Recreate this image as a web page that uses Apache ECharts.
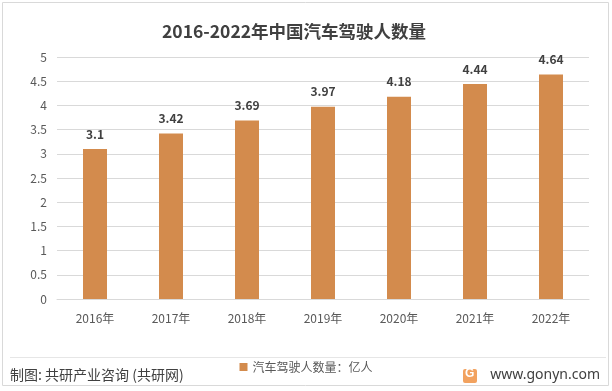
<!DOCTYPE html>
<html><head><meta charset="utf-8">
<script src="https://cdn.jsdelivr.net/npm/echarts@6/dist/echarts.min.js"></script>
<style>html,body{margin:0;padding:0;background:#fff}#c{width:612px;height:391px}</style>
</head><body><div id="c"></div>
<script>
const categories = ['2016年','2017年','2018年','2019年','2020年','2021年','2022年'];
const values = [3.1, 3.42, 3.69, 3.97, 4.18, 4.44, 4.64];
const seriesName = '汽车驾驶人数量：亿人';
const titleText = '2016-2022年中国汽车驾驶人数量';
const sourceText = '制图: 共研产业咨询 (共研网)';
const siteText = 'www.gonyn.com';

const chart = echarts.init(document.getElementById('c'));
const font = '"Microsoft YaHei","Noto Sans CJK SC",sans-serif';
chart.setOption({
  animation: false,
  textStyle: {fontFamily: font},
  title: {text: titleText, left: 157, top: 18,
    textStyle: {fontSize: 17.5, fontWeight: 'bold', color: '#404040', fontFamily: font}},
  grid: {left: 57, right: 23, top: 57, bottom: 92},
  legend: {bottom: 13, left: 'center', itemWidth: 8, itemHeight: 8, itemGap: 4,
    icon: 'rect', textStyle: {fontSize: 12, color: '#595959', fontFamily: font}},
  xAxis: {type: 'category', data: categories,
    axisLine: {lineStyle: {color: '#d9d9d9'}}, axisTick: {show: false},
    axisLabel: {fontSize: 12, color: '#595959', margin: 13}},
  yAxis: {type: 'value', min: 0, max: 5, interval: 0.5,
    axisLine: {show: false}, axisTick: {show: false},
    splitLine: {lineStyle: {color: '#d9d9d9'}},
    axisLabel: {fontSize: 12, color: '#595959', margin: 10}},
  series: [{name: seriesName, type: 'bar', data: values, barWidth: 24,
    itemStyle: {color: '#D38B4D'},
    label: {show: true, position: 'top', distance: 9, fontSize: 12, fontWeight: 'bold', color: '#404040'}}],
  graphic: [
    {type: 'rect', shape: {x: 2.5, y: 2.5, width: 606, height: 383}, style: {fill: 'none', stroke: '#d9d9d9', lineWidth: 1}, silent: true},
    {type: 'line', shape: {x1: 10, y1: 357.5, x2: 606, y2: 357.5}, style: {stroke: '#e6e6e6', lineWidth: 1}},
    {type: 'text', left: 10, top: 368, style: {text: sourceText, fill: '#404040', font: '14px ' + font}},
    {type: 'text', right: 12, top: 368, style: {text: siteText, fill: '#404040', font: '14px "Microsoft YaHei","Noto Sans",sans-serif'}},
    {type: 'rect', shape: {x: 463, y: 369, width: 14, height: 14, r: 2}, style: {fill: '#F2A25F'}},
    {type: 'text', left: 465, top: 368, style: {text: 'G', fill: '#fff', font: 'bold 12px sans-serif'}}
  ]
});
</script></body></html>
